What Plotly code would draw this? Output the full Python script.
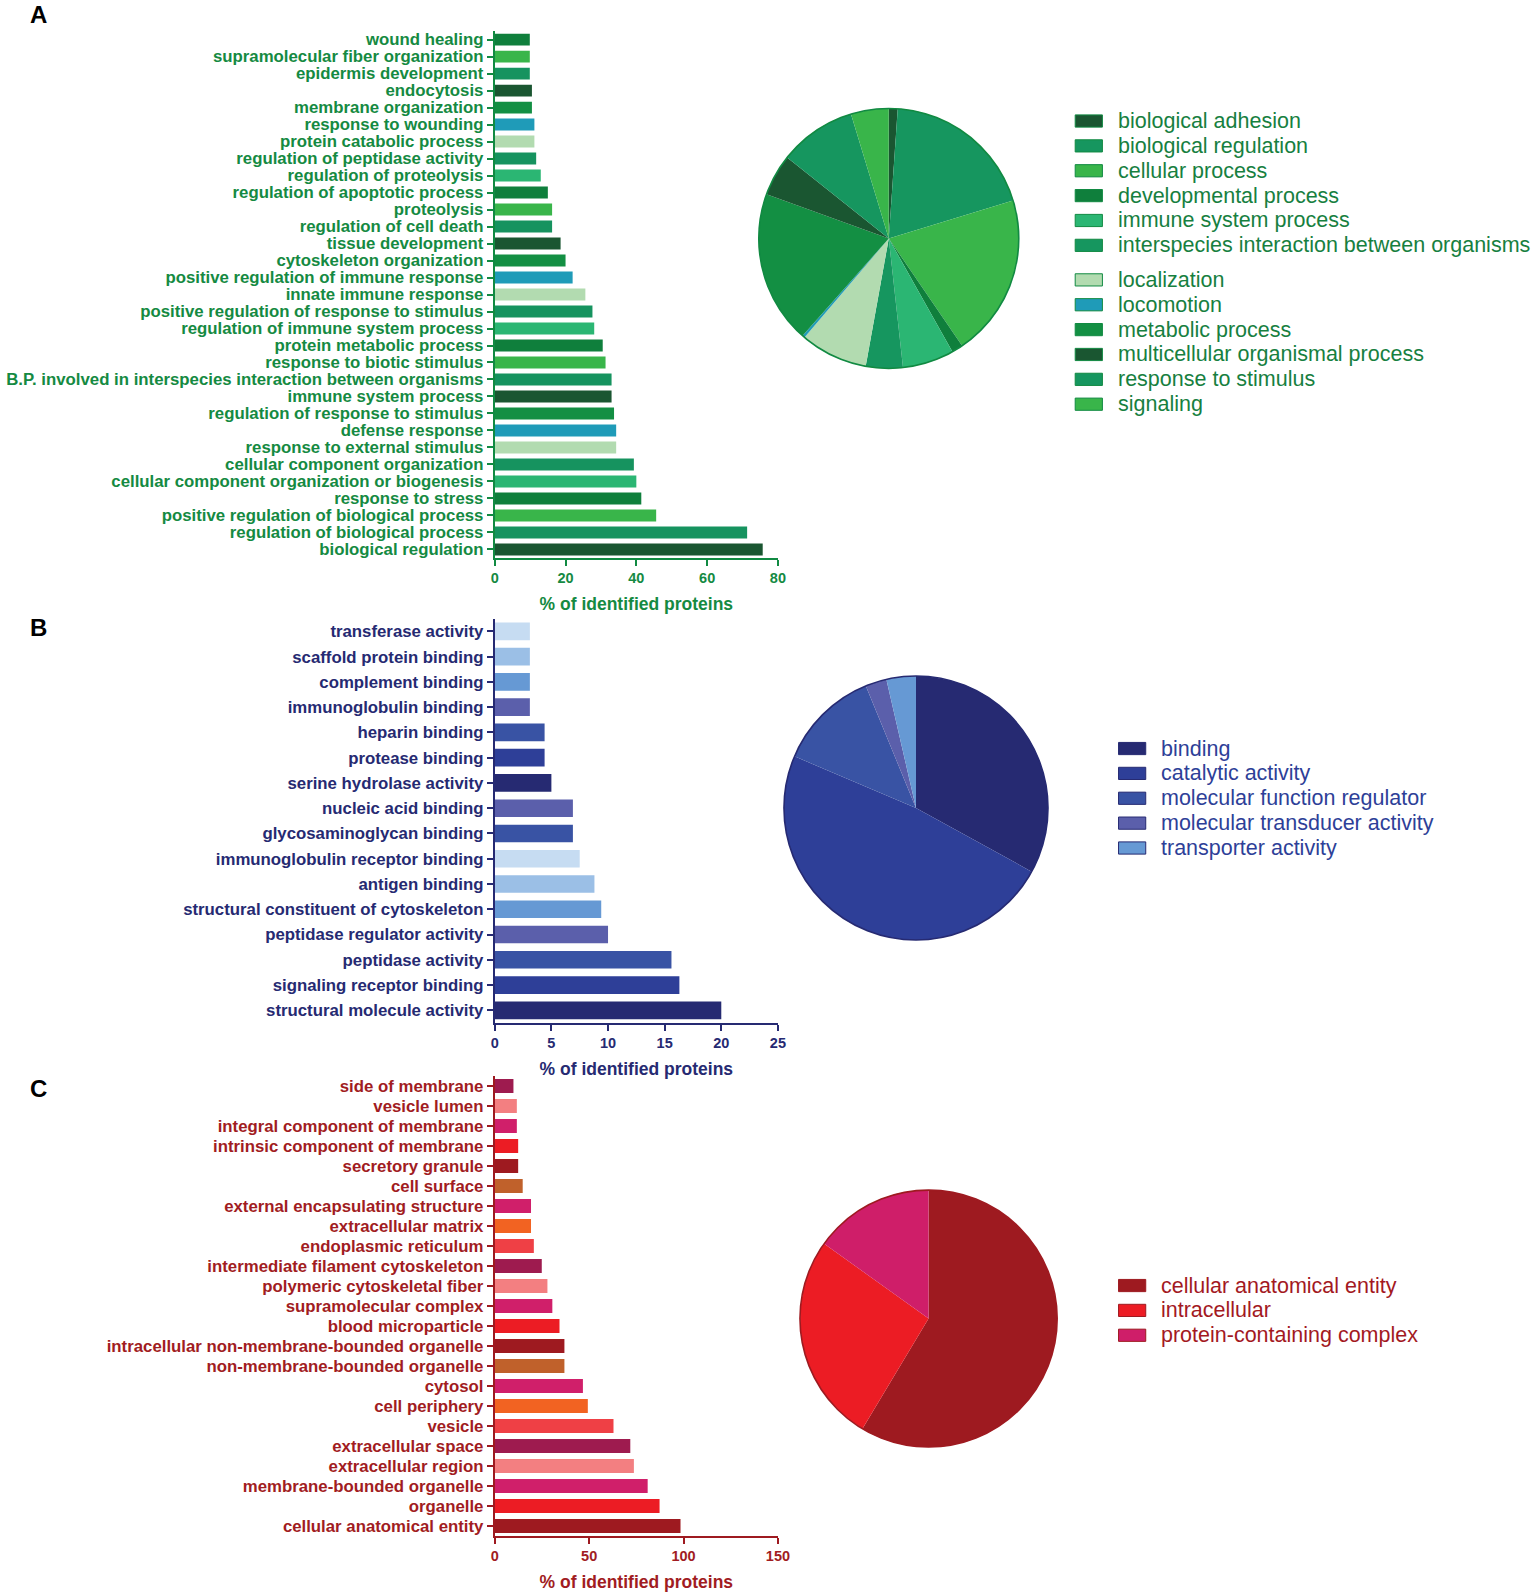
import plotly.graph_objects as go

W, H = 1535, 1592
S = 0.982  # reference measured on a slightly reduced view

# ---------------- A: biological process ----------------
bp_terms = [
    "wound healing", "supramolecular fiber organization", "epidermis development",
    "endocytosis", "membrane organization", "response to wounding",
    "protein catabolic process", "regulation of peptidase activity",
    "regulation of proteolysis", "regulation of apoptotic process", "proteolysis",
    "regulation of cell death", "tissue development", "cytoskeleton organization",
    "positive regulation of immune response", "innate immune response",
    "positive regulation of response to stimulus", "regulation of immune system process",
    "protein metabolic process", "response to biotic stimulus",
    "B.P. involved in interspecies interaction between organisms",
    "immune system process", "regulation of response to stimulus", "defense response",
    "response to external stimulus", "cellular component organization",
    "cellular component organization or biogenesis", "response to stress",
    "positive regulation of biological process", "regulation of biological process",
    "biological regulation",
]
bp_values = [9.9, 9.9, 9.9, 10.5, 10.5, 11.2, 11.2, 11.7, 13.0, 15.0, 16.2, 16.2,
             18.6, 20.0, 22.0, 25.6, 27.6, 28.1, 30.5, 31.3, 33.0, 33.0, 33.7,
             34.3, 34.3, 39.3, 40.0, 41.4, 45.6, 71.3, 75.7]
bp_colors = [
    "#0f7f3c", "#39b54a", "#16935f", "#1a5631", "#138f43", "#1f9bb8", "#b2dbb0",
    "#16935f", "#2bb673", "#0f7f3c", "#39b54a", "#16935f", "#1a5631", "#138f43",
    "#1f9bb8", "#b2dbb0", "#16935f", "#2bb673", "#0f7f3c", "#39b54a", "#16935f",
    "#1a5631", "#138f43", "#1f9bb8", "#b2dbb0", "#16935f", "#2bb673", "#0f7f3c",
    "#39b54a", "#16935f", "#1a5631",
]
bp_pie_labels = [
    "biological adhesion", "biological regulation", "cellular process",
    "developmental process", "immune system process",
    "interspecies interaction between organisms", "localization", "locomotion",
    "metabolic process", "multicellular organismal process", "response to stimulus",
    "signaling",
]
bp_pie_values = [1.1, 19.2, 20.2, 1.4, 6.4, 4.6, 8.4, 0.3, 19.0, 5.2, 9.6, 4.7]
bp_pie_colors = ["#1a5631", "#16965f", "#39b54a", "#0f7f3c", "#2bb673", "#16965f",
                 "#b2dbb0", "#1f9bb8", "#138f43", "#1a5631", "#16965f", "#39b54a"]

# ---------------- B: molecular function ----------------
mf_terms = [
    "transferase activity", "scaffold protein binding", "complement binding",
    "immunoglobulin binding", "heparin binding", "protease binding",
    "serine hydrolase activity", "nucleic acid binding", "glycosaminoglycan binding",
    "immunoglobulin receptor binding", "antigen binding",
    "structural constituent of cytoskeleton", "peptidase regulator activity",
    "peptidase activity", "signaling receptor binding", "structural molecule activity",
]
mf_values = [3.1, 3.1, 3.1, 3.1, 4.4, 4.4, 5.0, 6.9, 6.9, 7.5, 8.8, 9.4, 10.0,
             15.6, 16.3, 20.0]
mf_colors = ["#c6dcf2", "#9bbfe6", "#6699d4", "#5b5fab", "#3953a4", "#2e3f98",
             "#262a72", "#5b5fab", "#3953a4", "#c6dcf2", "#9bbfe6", "#6699d4",
             "#5b5fab", "#3953a4", "#2e3f98", "#262a72"]
mf_pie_labels = ["binding", "catalytic activity", "molecular function regulator",
                 "molecular transducer activity", "transporter activity"]
mf_pie_values = [33.0, 48.4, 12.4, 2.6, 3.6]
mf_pie_colors = ["#262a72", "#2e3f98", "#3953a4", "#5b5fab", "#6699d4"]

# ---------------- C: cellular component ----------------
cc_terms = [
    "side of membrane", "vesicle lumen", "integral component of membrane",
    "intrinsic component of membrane", "secretory granule", "cell surface",
    "external encapsulating structure", "extracellular matrix",
    "endoplasmic reticulum", "intermediate filament cytoskeleton",
    "polymeric cytoskeletal fiber", "supramolecular complex", "blood microparticle",
    "intracellular non-membrane-bounded organelle", "non-membrane-bounded organelle",
    "cytosol", "cell periphery", "vesicle", "extracellular space",
    "extracellular region", "membrane-bounded organelle", "organelle",
    "cellular anatomical entity",
]
cc_values = [9.9, 11.7, 11.7, 12.4, 12.4, 14.8, 19.2, 19.2, 20.7, 24.9, 27.9,
             30.5, 34.3, 36.9, 36.9, 46.7, 49.3, 62.9, 71.8, 73.7, 81.0, 87.3, 98.4]
cc_colors = ["#9e1b4f", "#f37f81", "#d01f6a", "#ec1c24", "#9e1a20", "#c0612b",
             "#d01f6a", "#f26322", "#ef4045", "#9e1b4f", "#f37f81", "#d01f6a",
             "#ec1c24", "#9e1a20", "#c0612b", "#d01f6a", "#f26322", "#ef4045",
             "#9e1b4f", "#f37f81", "#d01f6a", "#ec1c24", "#9e1a20"]
cc_pie_labels = ["cellular anatomical entity", "intracellular",
                 "protein-containing complex"]
cc_pie_values = [58.6, 26.3, 15.1]
cc_pie_colors = ["#9e1a20", "#ec1c24", "#cf1e69"]

FONT = "Liberation Sans, Arial, sans-serif"


def px_x(v):
    return v / S / W


def px_y(v):
    return 1 - v / S / H


fig = go.Figure()

panels = [
    dict(terms=bp_terms, values=bp_values, colors=bp_colors,
         plab=bp_pie_labels, pval=bp_pie_values, pcol=bp_pie_colors,
         line="#118a42", text="#158a42", legtext="#17803f", rng=[0, 80], dtick=20,
         ybox=(29.6, 547.6), pie=(749, 103, 1007, 364), leg=(1063, 118), split=6,
         ax=""),
    dict(terms=mf_terms, values=mf_values, colors=mf_colors,
         plab=mf_pie_labels, pval=mf_pie_values, pcol=mf_pie_colors,
         line="#262a72", text="#262a72", legtext="#2e3f98", rng=[0, 25], dtick=5,
         ybox=(607.4, 1004.8), pie=(774, 663, 1036, 924), leg=(1106, 735), split=None,
         ax="2"),
    dict(terms=cc_terms, values=cc_values, colors=cc_colors,
         plab=cc_pie_labels, pval=cc_pie_values, pcol=cc_pie_colors,
         line="#9e1a20", text="#a11c22", legtext="#a3191f", rng=[0, 150], dtick=50,
         ybox=(1057.1, 1509.2), pie=(790, 1167, 1045, 1424), leg=(1106, 1263), split=None,
         ax="3"),
]

LEG_STEP = 24.45
for p in panels:
    fig.add_trace(go.Bar(
        x=p["values"], y=p["terms"], orientation="h",
        marker=dict(color=p["colors"], line=dict(width=0)),
        xaxis="x" + p["ax"], yaxis="y" + p["ax"], showlegend=False,
    ))
    x0, y0, x1, y1 = p["pie"]
    dom = dict(x=[px_x(x0), px_x(x1)], y=[px_y(y1), px_y(y0)])
    fig.add_trace(go.Pie(
        labels=p["plab"], values=p["pval"], sort=False, direction="clockwise",
        rotation=0, textinfo="none", hoverinfo="label+percent",
        marker=dict(colors=p["pcol"], line=dict(width=0)),
        domain=dom, showlegend=False,
    ))
    # outer rim only
    fig.add_trace(go.Pie(
        labels=["rim"], values=[1], textinfo="none", hoverinfo="skip",
        marker=dict(colors=["rgba(0,0,0,0)"], line=dict(color=p["line"], width=1.6)),
        domain=dom, showlegend=False,
    ))

    ya, yb = p["ybox"]
    fig.layout["xaxis" + p["ax"]] = dict(
        domain=[px_x(487), px_x(768)], anchor="y" + p["ax"], range=p["rng"],
        dtick=p["dtick"], showgrid=False, zeroline=False, showline=True,
        linecolor=p["line"], linewidth=2, ticks="outside", ticklen=6, tickwidth=2,
        tickcolor=p["line"],
        tickfont=dict(family=FONT, size=14.5, color=p["text"], weight="bold"),
        title=dict(text="% of identified proteins", standoff=12,
                   font=dict(family=FONT, size=17.5, color=p["text"], weight="bold")),
    )
    fig.layout["yaxis" + p["ax"]] = dict(
        domain=[px_y(yb), px_y(ya)], anchor="x" + p["ax"], type="category",
        autorange="reversed", dtick=1, showgrid=False, zeroline=False, showline=True,
        linecolor=p["line"], linewidth=2, ticks="outside", ticklen=6, tickwidth=2,
        tickcolor=p["line"],
        tickfont=dict(family=FONT, size=16.8, color=p["text"], weight="bold"),
    )

    # legend drawn beside each pie
    lx, ly = p["leg"]
    for i, (lab, col) in enumerate(zip(p["plab"], p["pcol"])):
        yy = ly + i * LEG_STEP
        if p["split"] is not None and i >= p["split"]:
            yy += 9.5
        fig.add_shape(type="rect", xref="paper", yref="paper",
                      x0=px_x(lx), x1=px_x(lx + 27), y0=px_y(yy + 6), y1=px_y(yy - 6),
                      fillcolor=col, line=dict(color=p["line"], width=1))
        fig.add_annotation(text=lab, x=px_x(lx + 40), y=px_y(yy), xref="paper",
                           yref="paper", xanchor="left", yanchor="middle",
                           showarrow=False,
                           font=dict(family=FONT, size=21.5, color=p["legtext"]))

for letter, yy in [("A", 13), ("B", 616), ("C", 1069)]:
    fig.add_annotation(text=letter, x=px_x(34), y=px_y(yy), xref="paper", yref="paper",
                       xanchor="center", yanchor="middle", showarrow=False,
                       font=dict(family=FONT, size=24, color="black", weight="bold"))

fig.update_layout(
    width=W, height=H, margin=dict(l=0, r=0, t=0, b=0),
    paper_bgcolor="white", plot_bgcolor="white",
    font=dict(family=FONT), bargap=0.3, showlegend=False,
)

fig.write_html("out.html", config={"displayModeBar": False},
               post_script="document.body.style.margin='0';")
